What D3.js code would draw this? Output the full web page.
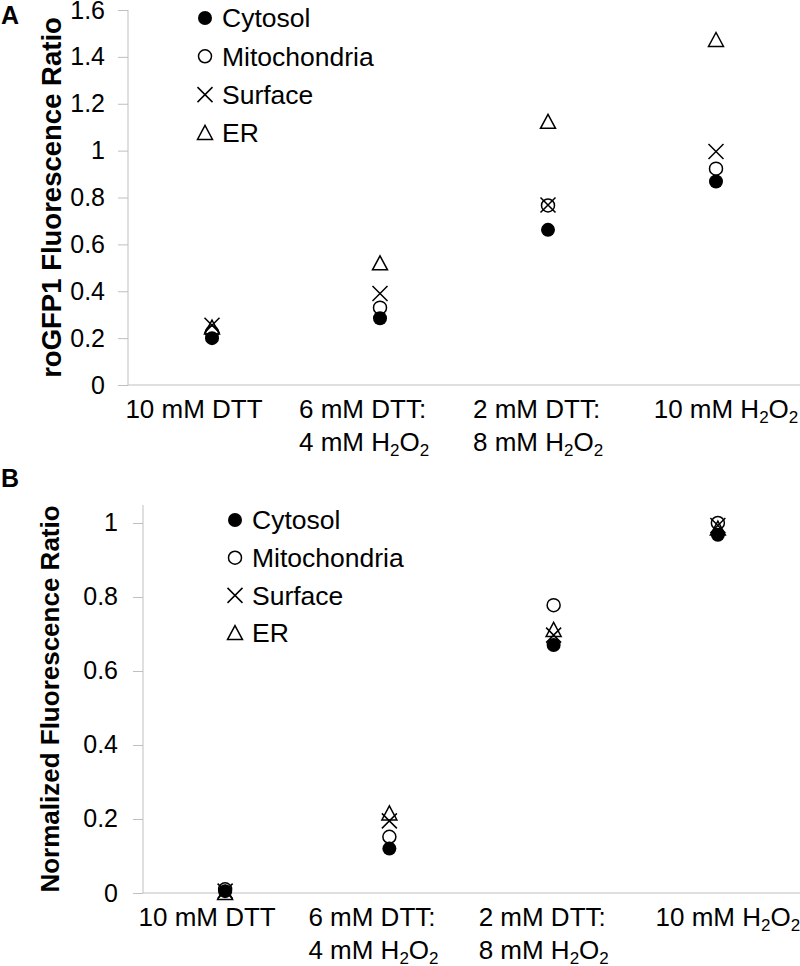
<!DOCTYPE html>
<html>
<head>
<meta charset="utf-8">
<script src="https://cdnjs.cloudflare.com/ajax/libs/d3/7.8.5/d3.min.js"></script>
<style>
  body { margin: 0; background: #fff; }
  svg { font-family: Arial, "Liberation Sans", sans-serif; }
</style>
</head>
<body>
<script>
// categories (x axis), two lines where needed
var categories = ["10 mM DTT", "6 mM DTT:|4 mM H2O2", "2 mM DTT:|8 mM H2O2", "10 mM H2O2"];
var seriesNames = ["Cytosol", "Mitochondria", "Surface", "ER"];

// panel A: roGFP1 fluorescence ratio
var rawCytosol = [0.20, 0.285, 0.662, 0.868];
var rawMito    = [0.225, 0.33, 0.766, 0.923];
var rawSurface = [0.255, 0.39, 0.768, 0.996];
var rawER      = [0.245, 0.519, 1.123, 1.472];
var ticksA = [0, 0.2, 0.4, 0.6, 0.8, 1, 1.2, 1.4, 1.6];

// panel B: normalized fluorescence ratio
var normCytosol = [0.005, 0.12, 0.67, 0.968];
var normMito    = [0.01, 0.152, 0.778, 1.0];
var normSurface = [0.005, 0.195, 0.697, 0.993];
var normER      = [0.0, 0.215, 0.711, 0.985];
var ticksB = [0, 0.2, 0.4, 0.6, 0.8, 1];

var svg = d3.select("body").append("svg").attr("width", 800).attr("height", 966);

var markerKind = ["filled", "open", "cross", "triangle"];
var labelShift = [-18, -14, -8, 10];

function drawMarker(g, kind, x, y) {
  if (kind == "filled") {
    g.append("circle").attr("cx", x).attr("cy", y).attr("r", 7).attr("fill", "#000");
  } else if (kind == "open") {
    g.append("circle").attr("cx", x).attr("cy", y).attr("r", 6.5)
      .attr("fill", "none").attr("stroke", "#000").attr("stroke-width", 1.5);
  } else if (kind == "cross") {
    g.append("path").attr("d", "M" + (x-7.5) + "," + (y-7.5) + "L" + (x+7.5) + "," + (y+7.5) +
        "M" + (x-7.5) + "," + (y+7.5) + "L" + (x+7.5) + "," + (y-7.5))
      .attr("stroke", "#000").attr("stroke-width", 1.5).attr("fill", "none");
  } else {
    g.append("path").attr("d", "M" + x + "," + (y-7.5) + "L" + (x+7.5) + "," + (y+6.5) +
        "L" + (x-7.5) + "," + (y+6.5) + "Z")
      .attr("stroke", "#000").attr("stroke-width", 1.5).attr("fill", "none");
  }
}

// writes a line of text, turning H2O2 into subscripts
function writeLine(t, str) {
  var parts = str.split(/(H2O2)/);
  parts.forEach(function(p) {
    if (p == "H2O2") {
      t.append("tspan").text("H");
      t.append("tspan").text("2").attr("font-size", "17px").attr("dy", 5);
      t.append("tspan").text("O").attr("dy", -5);
      t.append("tspan").text("2").attr("font-size", "17px").attr("dy", 5);
    } else if (p.length) {
      t.append("tspan").text(p);
    }
  });
}

function drawPanel(cfg) {
  var g = svg.append("g");
  var x = d3.scaleBand().domain(categories).range([cfg.left, 800]);
  var y = d3.scaleLinear().domain(cfg.domain).range([cfg.bottom, cfg.top]);

  // y axis
  var yAxis = g.append("g").attr("transform", "translate(" + cfg.left + ",0)")
    .call(d3.axisLeft(y).tickValues(cfg.ticks).tickFormat(d3.format("")).tickSize(10).tickPadding(cfg.pad));
  yAxis.select(".domain").attr("stroke", "#bfbfbf").attr("d", "M0," + cfg.top + "V" + cfg.bottom);
  yAxis.selectAll(".tick line").attr("stroke", "#bfbfbf");
  yAxis.selectAll(".tick text").attr("font-size", "25px").attr("fill", "#000")
    .attr("font-family", "Arial, 'Liberation Sans', sans-serif");

  // x axis line
  g.append("line").attr("x1", cfg.left).attr("x2", 800)
    .attr("y1", cfg.bottom).attr("y2", cfg.bottom).attr("stroke", "#bfbfbf");

  // category labels; two-line labels are left aligned as a block
  categories.forEach(function(c, i) {
    var lines = c.split("|");
    var cx = x(c) + x.bandwidth() / 2 + labelShift[i];
    lines.forEach(function(l, j) {
      var t = g.append("text").attr("y", cfg.bottom + 33 + j * 33)
        .attr("font-size", "26px");
      if (lines.length > 1) t.attr("x", cx - 67).attr("text-anchor", "start");
      else t.attr("x", cx).attr("text-anchor", "middle");
      writeLine(t, l);
    });
  });

  // y title
  g.append("text").attr("transform", "translate(" + cfg.titleX + "," + ((cfg.top + cfg.bottom) / 2) + ") rotate(-90)")
    .attr("text-anchor", "middle").attr("dy", "0.35em")
    .attr("font-weight", "bold").attr("font-size", cfg.titleSize).text(cfg.title);

  // panel letter
  g.append("text").attr("x", 1).attr("y", cfg.letterY).attr("font-weight", "bold")
    .attr("font-size", "25px").text(cfg.letter);

  // points
  cfg.series.forEach(function(vals, s) {
    vals.forEach(function(v, i) {
      drawMarker(g, markerKind[s], x(categories[i]) + x.bandwidth() / 2, y(v));
    });
  });

  // legend
  seriesNames.forEach(function(n, s) {
    var ly = cfg.legY + s * cfg.legStep;
    drawMarker(g, markerKind[s], cfg.legX, ly);
    g.append("text").attr("x", cfg.legX + 17).attr("y", ly).attr("dy", "0.35em")
      .attr("font-size", "26.5px").text(n);
  });
}

drawPanel({
  left: 128, top: 10, bottom: 385, domain: [0, 1.6], ticks: ticksA, pad: 13,
  title: "roGFP1 Fluorescence Ratio", titleSize: "27.5px", titleX: 51, letter: "A", letterY: 24,
  series: [rawCytosol, rawMito, rawSurface, rawER],
  legX: 205, legY: 18, legStep: 38.3
});

drawPanel({
  left: 143, top: 505, bottom: 893, domain: [0, 1.0486], ticks: ticksB, pad: 15,
  title: "Normalized Fluorescence Ratio", titleSize: "26px", titleX: 50, letter: "B", letterY: 487,
  series: [normCytosol, normMito, normSurface, normER],
  legX: 235, legY: 520, legStep: 37.7
});
</script>
</body>
</html>
